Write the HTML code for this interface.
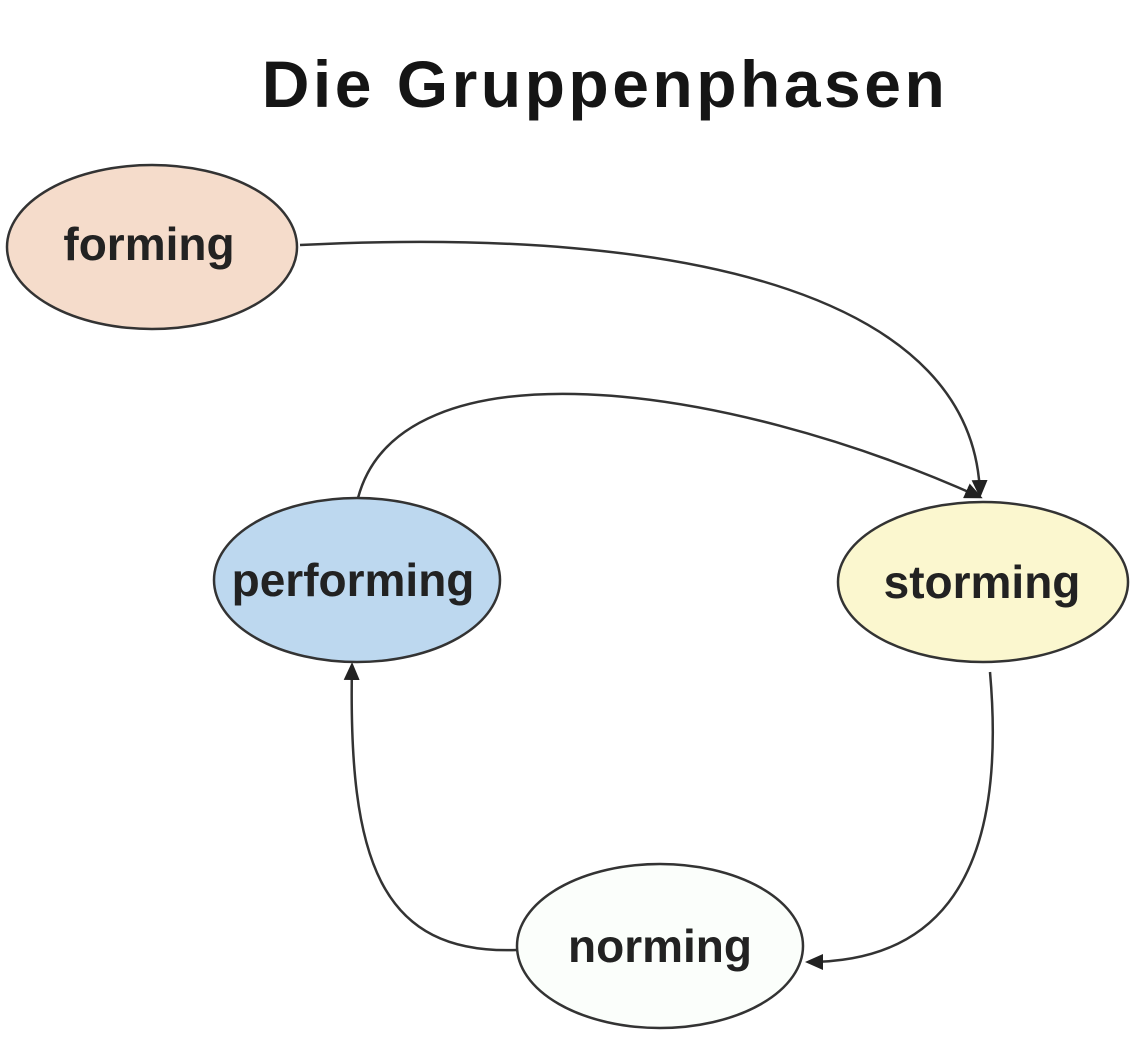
<!DOCTYPE html>
<html><head><meta charset="utf-8"><style>
html,body{margin:0;padding:0;background:#fff;}
svg{display:block;}
</style></head><body>
<svg width="1144" height="1060" viewBox="0 0 1144 1060" xmlns="http://www.w3.org/2000/svg">
<defs>
<marker id="a" markerWidth="18" markerHeight="16" refX="15" refY="8" orient="auto" markerUnits="userSpaceOnUse">
<path d="M0,0 L18,8 L0,16 z" fill="#222"/>
</marker>
</defs>
<text x="605" y="107" text-anchor="middle" font-family="Liberation Sans, sans-serif" font-weight="bold" font-size="66" letter-spacing="3.5" fill="#151515">Die Gruppenphasen</text>

<g stroke="#333" stroke-width="2.5" fill="none">
<path d="M300,245 C700,225 975,300 980,495" marker-end="url(#a)"/>
<path d="M358,498 C400,340 720,380 980,497" marker-end="url(#a)"/>
<path d="M990,672 C1010,900 920,962 808,962" marker-end="url(#a)"/>
<path d="M517,950 C380,955 348,860 352,665" marker-end="url(#a)"/>
</g>

<ellipse cx="152" cy="247" rx="145" ry="82" fill="#f5dccb" stroke="#333" stroke-width="2.5"/>
<ellipse cx="357" cy="580" rx="143" ry="82" fill="#bdd8ef" stroke="#333" stroke-width="2.5"/>
<ellipse cx="983" cy="582" rx="145" ry="80" fill="#fbf7cf" stroke="#333" stroke-width="2.5"/>
<ellipse cx="660" cy="946" rx="143" ry="82" fill="#fbfefb" stroke="#333" stroke-width="2.5"/>

<g font-family="Liberation Sans, sans-serif" font-weight="bold" font-size="46" fill="#222" text-anchor="middle">
<text x="149" y="260">forming</text>
<text x="353" y="596">performing</text>
<text x="982" y="598">storming</text>
<text x="660" y="962">norming</text>
</g>
</svg>
</body></html>
